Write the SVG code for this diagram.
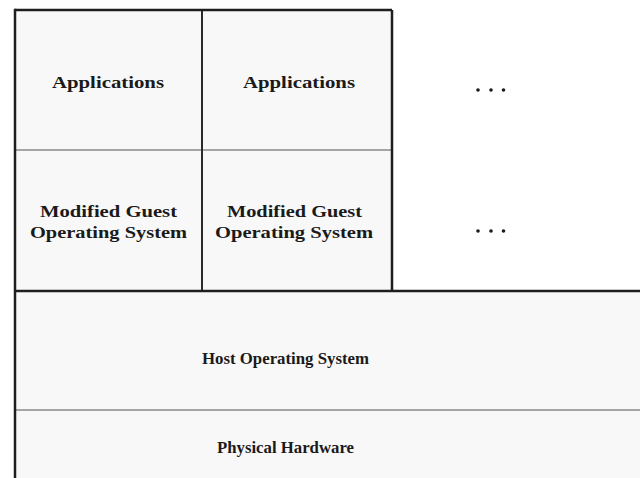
<svg xmlns="http://www.w3.org/2000/svg" width="640" height="478" viewBox="0 0 640 478">
<style>
.cell{fill:#f8f8f8;stroke:none}
.t{font-family:"Liberation Serif","Times New Roman",serif;font-weight:bold;font-size:17px;fill:#1a1a1a;text-anchor:middle}
.thick{stroke:#1e1e1e;stroke-width:2.5;fill:none}
.mid{stroke:#2a2a2a;stroke-width:2;fill:none}
.thin{stroke:#8a8a8a;stroke-width:1.6;fill:none}
.dot{fill:#1a1a1a}
</style>
<rect width="640" height="478" fill="#ffffff"/>
<g id="app1"><rect class="cell" x="15" y="10" width="187" height="140"/><text class="t" x="108" y="88" textLength="112" lengthAdjust="spacingAndGlyphs">Applications</text></g>
<g id="app2"><rect class="cell" x="202" y="10" width="190" height="140"/><text class="t" x="299" y="88" textLength="112" lengthAdjust="spacingAndGlyphs">Applications</text></g>
<g id="dots1"><circle class="dot" cx="478" cy="90" r="1.8"/><circle class="dot" cx="491" cy="90" r="1.8"/><circle class="dot" cx="503.5" cy="90" r="1.8"/></g>
<g id="guest1"><rect class="cell" x="15" y="150" width="187" height="141"/><text class="t" x="108.5" y="217" textLength="137" lengthAdjust="spacingAndGlyphs">Modified Guest</text><text class="t" x="108.5" y="238" textLength="157" lengthAdjust="spacingAndGlyphs">Operating System</text></g>
<g id="guest2"><rect class="cell" x="202" y="150" width="190" height="141"/><text class="t" x="294.5" y="217" textLength="135" lengthAdjust="spacingAndGlyphs">Modified Guest</text><text class="t" x="294" y="238" textLength="158" lengthAdjust="spacingAndGlyphs">Operating System</text></g>
<g id="dots2"><circle class="dot" cx="478" cy="231" r="1.8"/><circle class="dot" cx="491" cy="231" r="1.8"/><circle class="dot" cx="503.5" cy="231" r="1.8"/></g>
<g id="host"><rect class="cell" x="15" y="291" width="625" height="119"/><text class="t" x="285.5" y="364" textLength="167" lengthAdjust="spacingAndGlyphs">Host Operating System</text></g>
<g id="hw"><rect class="cell" x="15" y="410" width="625" height="68"/><text class="t" x="285.5" y="453" textLength="137" lengthAdjust="spacingAndGlyphs">Physical Hardware</text></g>
<g id="connectors">
<line class="thin" x1="15" y1="150" x2="392" y2="150"/>
<line class="thin" x1="15" y1="410" x2="640" y2="410"/>
<line class="mid" x1="202" y1="10" x2="202" y2="291"/>
<line class="thick" x1="15" y1="10" x2="392" y2="10"/>
<line class="thick" x1="392" y1="10" x2="392" y2="291"/>
<line class="thick" x1="15" y1="291" x2="640" y2="291"/>
<line class="thick" x1="15" y1="8.8" x2="15" y2="478"/>
</g>
</svg>
